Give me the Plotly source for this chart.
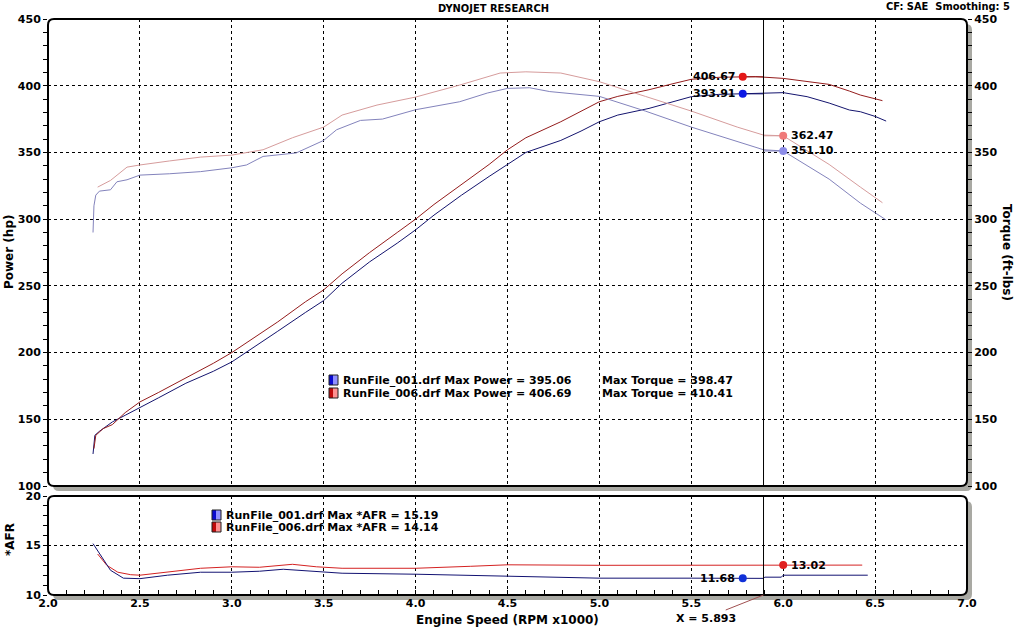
import plotly.graph_objects as go

# engine speed in RPM x1000, readings taken from the dyno sheet
rpm_pwr_001 = [2.245, 2.255, 2.28, 2.35, 2.42, 2.5, 2.6, 2.75, 2.9, 3.0, 3.1, 3.25, 3.4, 3.5, 3.6, 3.75,
               3.9, 4.0, 4.1, 4.25, 4.4, 4.5, 4.6, 4.79, 4.9, 5.0, 5.1, 5.27, 5.4, 5.5, 5.65, 5.78,
               5.85, 6.0, 6.13, 6.25, 6.36, 6.42, 6.5, 6.56]
pwr_001 = [124, 138, 141, 148, 153, 159, 166, 177, 186, 193, 202, 216, 230, 239, 252, 268,
           282, 292, 303, 318, 332, 341, 350, 359, 366, 373, 378, 383, 388, 391.8, 393.5, 393.91,
           394.5, 394.8, 391.8, 387, 381.8, 380.5, 377, 373.5]

rpm_pwr_006 = [2.25, 2.26, 2.3, 2.35, 2.42, 2.5, 2.6, 2.75, 2.9, 3.0, 3.1, 3.25, 3.4, 3.5, 3.6, 3.75,
               3.9, 4.0, 4.1, 4.25, 4.4, 4.5, 4.6, 4.79, 4.9, 5.0, 5.1, 5.27, 5.4, 5.5, 5.65, 5.78,
               5.85, 6.0, 6.13, 6.25, 6.36, 6.42, 6.54]
pwr_006 = [128, 138, 143, 146, 155, 163, 170, 181, 192, 200, 209, 223, 238, 247, 259, 275,
           290, 300, 311, 326, 341, 352, 361, 373, 381, 388, 392, 397, 401.5, 404.8, 406.3, 406.67,
           406.8, 405.5, 403, 401, 396, 393, 388.8]

rpm_trq_001 = [2.245, 2.25, 2.26, 2.28, 2.34, 2.375, 2.43, 2.5, 2.66, 2.83, 3.0, 3.08, 3.17, 3.35,
               3.5, 3.57, 3.7, 3.82, 4.0, 4.24, 4.39, 4.5, 4.62, 4.73, 5.0, 5.25, 5.5, 5.75, 5.893,
               6.0, 6.25, 6.42, 6.56]
trq_001 = [290, 310, 318, 321, 322, 328, 329.5, 333, 334, 335.6, 338.5, 340.6, 347, 349.6,
           359, 367, 374, 375, 382, 388, 394.5, 398, 398.47, 395.6, 392, 381, 369, 358, 352,
           351.1, 330, 312, 299.4]

rpm_trq_006 = [2.27, 2.34, 2.43, 2.5, 2.66, 2.83, 3.0, 3.17, 3.33, 3.5, 3.6, 3.79, 4.0, 4.24, 4.46,
               4.6, 4.79, 5.0, 5.25, 5.5, 5.75, 5.893, 6.0, 6.25, 6.42, 6.54]
trq_006 = [324, 329, 339, 340.6, 343.6, 346.5, 348, 352, 361, 369, 378, 385.5, 391.5, 400.5, 409.5,
           410.41, 409.5, 403, 392, 381, 369, 363, 362.47, 341, 324, 312.3]

rpm_afr_001 = [2.245, 2.3, 2.34, 2.41, 2.5, 2.65, 2.83, 3.0, 3.15, 3.28, 3.46, 3.6, 4.0, 4.5, 5.0,
               5.5, 5.78, 5.893, 5.9, 5.99, 6.0, 6.46]
afr_001 = [15.19, 13.6, 12.5, 11.7, 11.65, 12.0, 12.3, 12.3, 12.4, 12.6, 12.35, 12.2, 12.1, 11.9, 11.7,
           11.7, 11.68, 11.68, 11.8, 11.8, 12.0, 12.0]

rpm_afr_006 = [2.27, 2.32, 2.38, 2.45, 2.5, 2.65, 2.83, 3.0, 3.15, 3.33, 3.46, 3.6, 4.0, 4.3, 4.5,
               5.0, 5.5, 6.0, 6.43]
afr_006 = [14.14, 13.0, 12.3, 12.05, 12.0, 12.35, 12.7, 12.85, 12.8, 13.1, 12.85, 12.7, 12.7, 12.9, 13.05,
           13.0, 13.0, 13.02, 13.02]

cursor_rpm = 5.893
pwr_mark_rpm = 5.78
pwr_mark = [393.91, 406.67]
trq_mark_rpm = 6.0
trq_mark = [351.10, 362.47]
afr_mark_rpm = [5.78, 6.0]
afr_mark = [11.68, 13.02]

legend_top = [
    ("RunFile_001.drf Max Power = 395.06", "Max Torque = 398.47"),
    ("RunFile_006.drf Max Power = 406.69", "Max Torque = 410.41"),
]
legend_afr = ["RunFile_001.drf Max *AFR = 15.19", "RunFile_006.drf Max *AFR = 14.14"]

C_PWR1, C_PWR6 = "#14146e", "#941c1c"
C_TRQ1, C_TRQ6 = "#8383bc", "#d69c9c"
C_AFR1, C_AFR6 = "#121272", "#d42222"

# page pixel -> paper coordinates (plot area 48..967 x, 19..595 y)
L, R, T, B = 48, 967, 19, 595


def px(x):
    return (x - L) / (R - L)


def py(y):
    return (B - y) / (B - T)


TOP_Y0, BOT_Y1 = 486, 496

fnt = dict(family="DejaVu Sans", size=11, color="black", weight="bold")
big = dict(family="DejaVu Sans", size=12, color="black", weight="bold")
cond = dict(family="DejaVu Sans Condensed, Liberation Sans Narrow, DejaVu Sans", size=11, color="black",
            weight="bold")
grid = dict(showgrid=True, gridcolor="black", griddash="3px,3px", gridwidth=1, zeroline=False, showline=False)

fig = go.Figure()


def line(x, y, color, xa="x", ya="y"):
    fig.add_trace(go.Scatter(x=x, y=y, xaxis=xa, yaxis=ya, mode="lines",
                             line=dict(color=color, width=1), hoverinfo="skip"))


line(rpm_trq_001, trq_001, C_TRQ1, ya="y3")
line(rpm_trq_006, trq_006, C_TRQ6, ya="y3")
line(rpm_pwr_001, pwr_001, C_PWR1)
line(rpm_pwr_006, pwr_006, C_PWR6)
line(rpm_afr_006, afr_006, C_AFR6, "x2", "y2")
line(rpm_afr_001, afr_001, C_AFR1, "x2", "y2")

# cursor connectors and markers
for v, c, mc in zip(pwr_mark, [C_PWR1, C_PWR6], ["#0c18e4", "#e41818"]):
    line([pwr_mark_rpm, cursor_rpm], [v, v], c)
    fig.add_trace(go.Scatter(x=[pwr_mark_rpm], y=[v], mode="markers", marker=dict(color=mc, size=8)))
for v, c, mc in zip(trq_mark, [C_TRQ1, C_TRQ6], ["#8c8ce8", "#f07a7a"]):
    line([cursor_rpm, trq_mark_rpm], [v, v], c, ya="y3")
    fig.add_trace(go.Scatter(x=[trq_mark_rpm], y=[v], yaxis="y3", mode="markers", marker=dict(color=mc, size=8)))
fig.add_trace(go.Scatter(x=afr_mark_rpm, y=afr_mark, xaxis="x2", yaxis="y2", mode="markers",
                         marker=dict(color=["#1030d8", "#e02020"], size=8)))


def note(x, y, text, font=fnt, xanchor="left", **kw):
    return dict(x=x, y=y, text=text, xanchor=xanchor, yanchor="middle", showarrow=False, font=font, **kw)


ann = []
for v in pwr_mark:
    ann.append(note(pwr_mark_rpm, v, f"{v:.2f}", xanchor="right", xref="x", yref="y", xshift=-6))
for v in trq_mark:
    ann.append(note(trq_mark_rpm, v, f"{v:.2f}", xref="x", yref="y3", xshift=6))
ann.append(note(afr_mark_rpm[0], afr_mark[0], f"{afr_mark[0]:.2f}", xanchor="right", xref="x2", yref="y2",
                xshift=-6))
ann.append(note(afr_mark_rpm[1], afr_mark[1], f"{afr_mark[1]:.2f}", xref="x2", yref="y2", xshift=6))

P = dict(xref="paper", yref="paper")
for i, (a, b) in enumerate(legend_top):
    y = 380 + 13 * i
    ann.append(note(px(341), py(y), a, **P))
    ann.append(note(px(600), py(y), b, **P))
for i, t in enumerate(legend_afr):
    ann.append(note(px(224), py(515 + 12 * i), t, **P))

ann += [
    note(px(493), py(9), "DYNOJET RESEARCH", cond, "center", **P),
    note(px(1012), py(6), "CF: SAE  Smoothing: 5", cond, "right", **P),
    note(px(9), py(252), "Power (hp)", big, "center", textangle=-90, **P),
    note(px(1007), py(252), "Torque (ft-lbs)", big, "center", textangle=90, **P),
    note(px(10), py(540), "*AFR", big, "center", textangle=-90, **P),
    note(px(507), py(620), "Engine Speed (RPM x1000)", big, "center", **P),
    dict(x=cursor_rpm, y=0, xref="x2", yref="y2 domain", text="X = 5.893", showarrow=True,
         arrowhead=0, arrowwidth=1, arrowcolor="#a05050", ax=-58, ay=23, font=fnt),
]


def rrect(x0, y0, x1, y1, r=6):
    return (f"M {px(x0 + r)},{py(y0)} L {px(x1 - r)},{py(y0)} Q {px(x1)},{py(y0)} {px(x1)},{py(y0 + r)} "
            f"L {px(x1)},{py(y1 - r)} Q {px(x1)},{py(y1)} {px(x1 - r)},{py(y1)} "
            f"L {px(x0 + r)},{py(y1)} Q {px(x0)},{py(y1)} {px(x0)},{py(y1 - r)} "
            f"L {px(x0)},{py(y0 + r)} Q {px(x0)},{py(y0)} {px(x0 + r)},{py(y0)} Z")


shapes = []
for y0, y1 in [(T, TOP_Y0), (BOT_Y1, B)]:
    shapes.append(dict(type="path", path=rrect(L + 5, y0 + 5, R + 5, y1 + 5), xref="paper", yref="paper",
                       fillcolor="#a9a9a3", line=dict(width=0), layer="below"))
    shapes.append(dict(type="path", path=rrect(L, y0, R, y1), xref="paper", yref="paper",
                       fillcolor="white", line=dict(width=0), layer="below"))
    shapes.append(dict(type="path", path=rrect(L, y0, R, y1), xref="paper", yref="paper",
                       line=dict(color="black", width=2), layer="above"))
shapes.append(dict(type="line", x0=cursor_rpm, x1=cursor_rpm, y0=0, y1=1, xref="x", yref="y domain",
                   line=dict(color="black", width=1)))
shapes.append(dict(type="line", x0=cursor_rpm, x1=cursor_rpm, y0=0, y1=1, xref="x2", yref="y2 domain",
                   line=dict(color="black", width=1)))

# legend swatches
for i, (c1, c2) in enumerate([("#0a0ad0", "#9090ff"), ("#c00a0a", "#ff9090")]):
    for (xa, xb, ya) in [(329, 338, 375 + 13 * i), (212, 221, 510 + 12 * i)]:
        shapes.append(dict(type="rect", x0=px(xa), x1=px(xa + 4), y0=py(ya), y1=py(ya + 10), xref="paper",
                           yref="paper", fillcolor=c1, line=dict(width=0)))
        shapes.append(dict(type="rect", x0=px(xa + 4), x1=px(xb), y0=py(ya), y1=py(ya + 10), xref="paper",
                           yref="paper", fillcolor=c2, line=dict(width=0)))
        shapes.append(dict(type="rect", x0=px(xa), x1=px(xb), y0=py(ya), y1=py(ya + 10), xref="paper",
                           yref="paper", line=dict(color="#202020", width=1)))

fig.update_layout(
    width=1015, height=627,
    margin=dict(l=L, r=1015 - R, t=T, b=627 - B),
    paper_bgcolor="white", plot_bgcolor="rgba(0,0,0,0)",
    showlegend=False,
    xaxis=dict(domain=[0, 1], anchor="y", range=[2, 7], tick0=2, dtick=0.5, showticklabels=False,
               ticks="", **grid),
    yaxis=dict(domain=[py(TOP_Y0), 1], anchor="x", range=[100, 450], dtick=50, ticks="outside", ticklen=4,
               tickcolor="black", tickfont=fnt,
               minor=dict(dtick=10, ticks="outside", ticklen=4, tickcolor="black", showgrid=False), **grid),
    yaxis3=dict(overlaying="y", anchor="x", side="right", range=[100, 450], dtick=50, ticks="outside",
                ticklen=4, tickcolor="black", tickfont=fnt, showgrid=False, zeroline=False, showline=False,
                minor=dict(dtick=10, ticks="outside", ticklen=4, tickcolor="black")),
    xaxis2=dict(domain=[0, 1], anchor="y2", range=[2, 7], tick0=2, dtick=0.5, tickformat=".1f",
                ticks="inside", ticklen=5, tickcolor="black", tickfont=fnt,
                minor=dict(dtick=0.1, ticks="inside", ticklen=5, tickcolor="black", showgrid=False), **grid),
    yaxis2=dict(domain=[0, py(BOT_Y1)], anchor="x2", range=[10, 20], dtick=5, ticks="outside", ticklen=4,
                tickcolor="black", tickfont=fnt,
                minor=dict(dtick=1, ticks="outside", ticklen=4, tickcolor="black", showgrid=False), **grid),
    annotations=ann,
    shapes=shapes,
)

# drop the page's default body margin so the fixed-size figure sits at the window's corner
fig.write_html("out.html", config={"displayModeBar": False},
               post_script="document.body.style.margin='0';")
